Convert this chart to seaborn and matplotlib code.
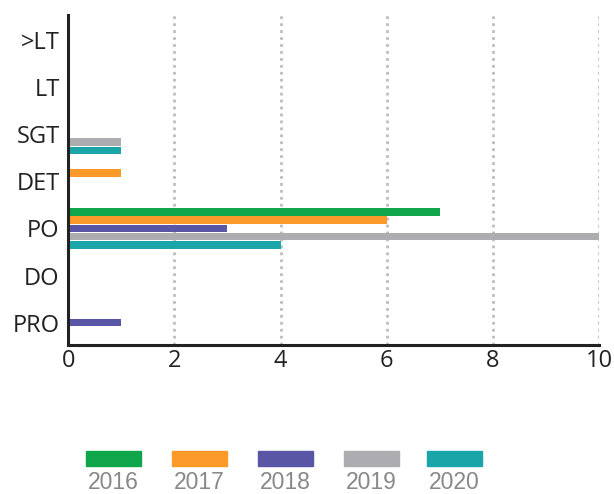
import pandas as pd
import matplotlib.pyplot as plt
import seaborn as sns
from matplotlib.patches import Rectangle

## Data
ranks = ['>LT', 'LT', 'SGT', 'DET', 'PO', 'DO', 'PRO']
years = ['2016', '2017', '2018', '2019', '2020']
counts = {
    '2016': [0, 0, 0, 0, 7, 0, 0],
    '2017': [0, 0, 0, 1, 6, 0, 0],
    '2018': [0, 0, 0, 0, 3, 0, 1],
    '2019': [0, 0, 1, 0, 10, 0, 0],
    '2020': [0, 0, 1, 0, 4, 0, 0],
}
colors = ['#0fa54a', '#fb9a28', '#5a56a6', '#adacb1', '#1aa6a8']

rows = []
for y in years:
    for r, v in zip(ranks, counts[y]):
        rows.append({'rank': r, 'year': y, 'count': v})
df = pd.DataFrame(rows)

sns.set_style('white')
plt.rcParams['font.family'] = ['Open Sans', 'DejaVu Sans']

fig = plt.figure(figsize=(6.14, 4.94), dpi=100)
ax = fig.add_axes([0.111, 0.302, 0.865, 0.668])

sns.barplot(data=df, y='rank', x='count', hue='year', order=ranks,
            hue_order=years, palette=colors, saturation=1, orient='h',
            width=0.87, gap=0.07, linewidth=0, legend=False, ax=ax)

ax.set_xlim(0, 10)
ax.set_ylim(6.47, -0.53)
ax.set_xticks([0, 2, 4, 6, 8, 10])
ax.set_xlabel('')
ax.set_ylabel('')
ax.grid(axis='x', color='#bdbdbd', linestyle=(0, (1, 1.5)), linewidth=2)
ax.grid(axis='y', visible=False)
ax.set_axisbelow(True)

for s in ['top', 'right']:
    ax.spines[s].set_visible(False)
for s in ['left', 'bottom']:
    ax.spines[s].set_color('#222222')
    ax.spines[s].set_linewidth(2.2)
ax.tick_params(axis='both', length=0, labelsize=17, colors='#222222')
ax.tick_params(axis='y', pad=6)
ax.tick_params(axis='x', pad=3)

## Legend: colour block with the year beneath it
lx = [0.140, 0.280, 0.420, 0.560, 0.695]
for x0, y, c in zip(lx, years, colors):
    fig.patches.append(Rectangle((x0, 0.057), 0.0895, 0.031, color=c,
                                 transform=fig.transFigure, figure=fig))
    fig.text(x0 + 0.0447, 0.046, y, ha='center', va='top', fontsize=16.5,
             color='#888888', family=['Liberation Sans', 'DejaVu Sans'])

plt.savefig('out.png', dpi=100)
